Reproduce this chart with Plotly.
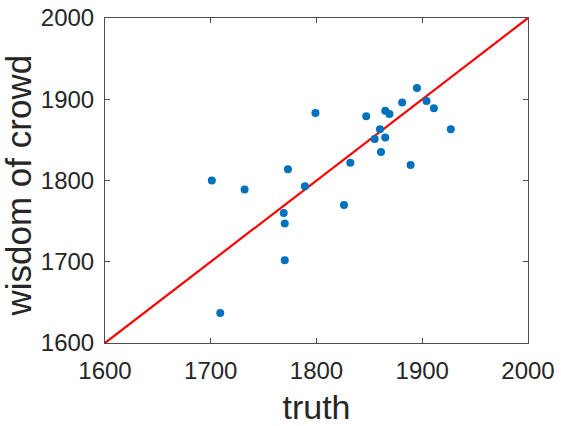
import plotly.graph_objects as go

# truth vs crowd estimates
truth = [1701, 1709, 1732, 1769, 1770, 1770, 1773, 1789, 1799, 1826, 1832, 1847,
         1855, 1860, 1861, 1865, 1865, 1869, 1881, 1889, 1895, 1904, 1911, 1927]
crowd = [1800, 1637, 1789, 1760, 1747, 1702, 1814, 1793, 1883, 1770, 1822, 1879,
         1851, 1863, 1835, 1853, 1886, 1882, 1896, 1819, 1914, 1898, 1889, 1863]
diag = [1600, 2000]

fig = go.Figure()
fig.add_trace(go.Scatter(x=diag, y=diag, mode='lines',
                         line=dict(color='#ff0000', width=2.2), showlegend=False))
fig.add_trace(go.Scatter(x=truth, y=crowd, mode='markers',
                         marker=dict(color='#0072BD', size=8), showlegend=False))

axis_style = dict(range=[1600, 2000], dtick=100, showgrid=False, zeroline=False,
                  showline=True, linecolor='#4d4d4d', linewidth=1, mirror='ticks',
                  ticks='inside', ticklen=5, tickcolor='#4d4d4d',
                  ticklabeloverflow='allow', automargin=False,
                  tickfont=dict(size=24, color='#262626'))

fig.update_layout(
    width=561, height=426,
    margin=dict(l=105, r=33, t=18, b=83),
    paper_bgcolor='white', plot_bgcolor='white',
    font=dict(family='Liberation Sans, Arial, sans-serif', color='#262626'),
    xaxis=dict(**axis_style, ticklabelstandoff=6,
               title=dict(text='truth', font=dict(size=34), standoff=14)),
    yaxis=dict(**axis_style, ticklabelstandoff=5),
)

# y title as an annotation so it can sit closer to the page edge
fig.add_annotation(text='wisdom of crowd', textangle=-90, showarrow=False,
                   xref='paper', yref='paper', x=0, y=0.5,
                   xanchor='center', yanchor='middle', xshift=-87, yshift=-5,
                   font=dict(size=35, color='#262626'))

# drop the default 8px page margin so the figure fills the window
fig.write_html("out.html", config={'displayModeBar': False},
               post_script="document.body.style.margin='0';")
